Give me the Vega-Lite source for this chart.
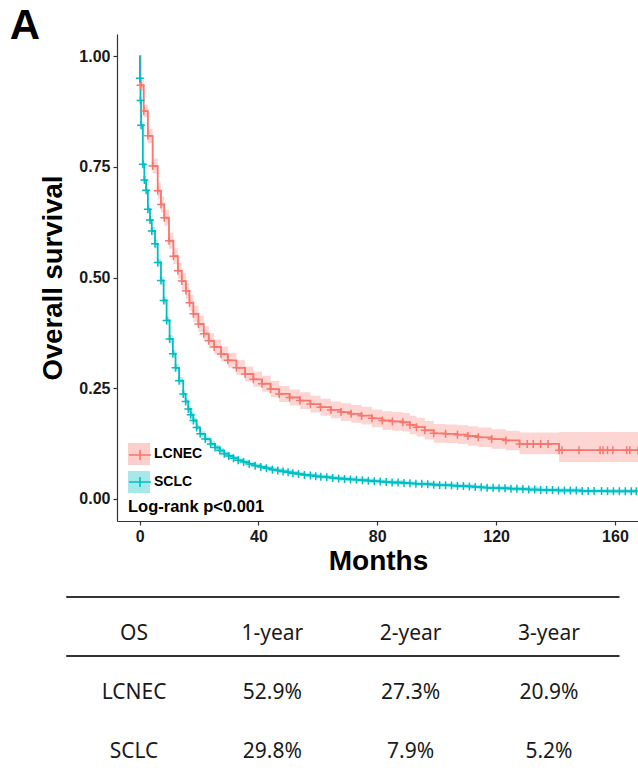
{
  "$schema": "https://vega.github.io/schema/vega-lite/v6.json",
  "autosize": {"type": "pad"},
  "padding": {"left": 9, "top": 5, "right": 0, "bottom": 0},
  "title": {"text": "A", "anchor": "start", "font": "Liberation Sans", "fontSize": 42, "fontWeight": "bold", "color": "black", "offset": -14, "dx": -30},
  "spacing": 21,
  "datasets": {
    "km": [
      {"group":"LCNEC","month":0,"surv":1,"lower":1,"upper":1},
      {"group":"LCNEC","month":0.3,"surv":0.934,"lower":0.922,"upper":0.946},
      {"group":"LCNEC","month":1.4,"surv":0.876,"lower":0.862,"upper":0.890},
      {"group":"LCNEC","month":2.8,"surv":0.820,"lower":0.804,"upper":0.836},
      {"group":"LCNEC","month":4.4,"surv":0.752,"lower":0.735,"upper":0.769},
      {"group":"LCNEC","month":6.1,"surv":0.696,"lower":0.678,"upper":0.714},
      {"group":"LCNEC","month":7.2,"surv":0.665,"lower":0.647,"upper":0.683},
      {"group":"LCNEC","month":8.3,"surv":0.635,"lower":0.617,"upper":0.653},
      {"group":"LCNEC","month":9.9,"surv":0.583,"lower":0.565,"upper":0.601},
      {"group":"LCNEC","month":11.4,"surv":0.548,"lower":0.530,"upper":0.566},
      {"group":"LCNEC","month":12.9,"surv":0.515,"lower":0.497,"upper":0.533},
      {"group":"LCNEC","month":14.2,"surv":0.492,"lower":0.474,"upper":0.510},
      {"group":"LCNEC","month":15.6,"surv":0.470,"lower":0.452,"upper":0.488},
      {"group":"LCNEC","month":16.8,"surv":0.443,"lower":0.425,"upper":0.461},
      {"group":"LCNEC","month":18.1,"surv":0.418,"lower":0.400,"upper":0.436},
      {"group":"LCNEC","month":19.8,"surv":0.395,"lower":0.377,"upper":0.413},
      {"group":"LCNEC","month":21.6,"surv":0.373,"lower":0.356,"upper":0.390},
      {"group":"LCNEC","month":23.3,"surv":0.357,"lower":0.340,"upper":0.374},
      {"group":"LCNEC","month":25.1,"surv":0.343,"lower":0.326,"upper":0.360},
      {"group":"LCNEC","month":27.4,"surv":0.327,"lower":0.310,"upper":0.344},
      {"group":"LCNEC","month":29.7,"surv":0.313,"lower":0.296,"upper":0.330},
      {"group":"LCNEC","month":32.6,"surv":0.296,"lower":0.279,"upper":0.313},
      {"group":"LCNEC","month":35.5,"surv":0.282,"lower":0.265,"upper":0.299},
      {"group":"LCNEC","month":38.3,"surv":0.270,"lower":0.253,"upper":0.287},
      {"group":"LCNEC","month":41.2,"surv":0.260,"lower":0.242,"upper":0.278},
      {"group":"LCNEC","month":44.1,"surv":0.248,"lower":0.230,"upper":0.266},
      {"group":"LCNEC","month":47.0,"surv":0.237,"lower":0.219,"upper":0.255},
      {"group":"LCNEC","month":50.5,"surv":0.229,"lower":0.211,"upper":0.247},
      {"group":"LCNEC","month":54.0,"surv":0.222,"lower":0.203,"upper":0.241},
      {"group":"LCNEC","month":57.5,"surv":0.214,"lower":0.195,"upper":0.233},
      {"group":"LCNEC","month":60.9,"surv":0.207,"lower":0.188,"upper":0.226},
      {"group":"LCNEC","month":64.4,"surv":0.201,"lower":0.182,"upper":0.220},
      {"group":"LCNEC","month":67.8,"surv":0.196,"lower":0.176,"upper":0.216},
      {"group":"LCNEC","month":71.2,"surv":0.192,"lower":0.172,"upper":0.212},
      {"group":"LCNEC","month":74.7,"surv":0.188,"lower":0.168,"upper":0.208},
      {"group":"LCNEC","month":78.2,"surv":0.182,"lower":0.162,"upper":0.202},
      {"group":"LCNEC","month":81.7,"surv":0.177,"lower":0.156,"upper":0.198},
      {"group":"LCNEC","month":85.1,"surv":0.175,"lower":0.154,"upper":0.196},
      {"group":"LCNEC","month":88.6,"surv":0.173,"lower":0.152,"upper":0.194},
      {"group":"LCNEC","month":91.0,"surv":0.167,"lower":0.146,"upper":0.188},
      {"group":"LCNEC","month":93.2,"surv":0.162,"lower":0.141,"upper":0.183},
      {"group":"LCNEC","month":96.0,"surv":0.155,"lower":0.134,"upper":0.176},
      {"group":"LCNEC","month":99.0,"surv":0.148,"lower":0.127,"upper":0.169},
      {"group":"LCNEC","month":103.0,"surv":0.147,"lower":0.126,"upper":0.168},
      {"group":"LCNEC","month":107.0,"surv":0.145,"lower":0.124,"upper":0.166},
      {"group":"LCNEC","month":110.5,"surv":0.142,"lower":0.120,"upper":0.164},
      {"group":"LCNEC","month":114.0,"surv":0.139,"lower":0.117,"upper":0.161},
      {"group":"LCNEC","month":118.5,"surv":0.135,"lower":0.113,"upper":0.157},
      {"group":"LCNEC","month":123.3,"surv":0.132,"lower":0.110,"upper":0.154},
      {"group":"LCNEC","month":127.9,"surv":0.124,"lower":0.101,"upper":0.150},
      {"group":"LCNEC","month":130.5,"surv":0.124,"lower":0.101,"upper":0.150},
      {"group":"LCNEC","month":132.5,"surv":0.124,"lower":0.101,"upper":0.150},
      {"group":"LCNEC","month":135.0,"surv":0.124,"lower":0.101,"upper":0.150},
      {"group":"LCNEC","month":137.5,"surv":0.124,"lower":0.101,"upper":0.150},
      {"group":"LCNEC","month":141.2,"surv":0.110,"lower":0.083,"upper":0.151},
      {"group":"LCNEC","month":142.2,"surv":0.110,"lower":0.083,"upper":0.151},
      {"group":"LCNEC","month":147.9,"surv":0.110,"lower":0.083,"upper":0.151},
      {"group":"LCNEC","month":155.0,"surv":0.110,"lower":0.083,"upper":0.151},
      {"group":"LCNEC","month":156.0,"surv":0.110,"lower":0.083,"upper":0.151},
      {"group":"LCNEC","month":157.5,"surv":0.110,"lower":0.083,"upper":0.151},
      {"group":"LCNEC","month":159.3,"surv":0.110,"lower":0.083,"upper":0.151},
      {"group":"LCNEC","month":164.0,"surv":0.110,"lower":0.083,"upper":0.151},
      {"group":"LCNEC","month":165.0,"surv":0.110,"lower":0.083,"upper":0.151},
      {"group":"LCNEC","month":167.8,"surv":0.110,"lower":0.083,"upper":0.151},
      {"group":"SCLC","month":0,"surv":1,"lower":1,"upper":1},
      {"group":"SCLC","month":0.1,"surv":0.950,"lower":0.944,"upper":0.956},
      {"group":"SCLC","month":0.3,"surv":0.900,"lower":0.893,"upper":0.907},
      {"group":"SCLC","month":0.5,"surv":0.844,"lower":0.836,"upper":0.852},
      {"group":"SCLC","month":1.1,"surv":0.756,"lower":0.747,"upper":0.765},
      {"group":"SCLC","month":1.6,"surv":0.720,"lower":0.711,"upper":0.729},
      {"group":"SCLC","month":2.2,"surv":0.697,"lower":0.688,"upper":0.706},
      {"group":"SCLC","month":2.8,"surv":0.654,"lower":0.645,"upper":0.663},
      {"group":"SCLC","month":3.5,"surv":0.630,"lower":0.621,"upper":0.639},
      {"group":"SCLC","month":4.1,"surv":0.605,"lower":0.596,"upper":0.614},
      {"group":"SCLC","month":5.2,"surv":0.576,"lower":0.567,"upper":0.585},
      {"group":"SCLC","month":6.1,"surv":0.534,"lower":0.525,"upper":0.543},
      {"group":"SCLC","month":7.2,"surv":0.493,"lower":0.484,"upper":0.502},
      {"group":"SCLC","month":8.1,"surv":0.448,"lower":0.439,"upper":0.457},
      {"group":"SCLC","month":9.1,"surv":0.403,"lower":0.394,"upper":0.412},
      {"group":"SCLC","month":10.1,"surv":0.361,"lower":0.352,"upper":0.370},
      {"group":"SCLC","month":11.2,"surv":0.328,"lower":0.320,"upper":0.336},
      {"group":"SCLC","month":12.1,"surv":0.296,"lower":0.288,"upper":0.304},
      {"group":"SCLC","month":13.3,"surv":0.267,"lower":0.259,"upper":0.275},
      {"group":"SCLC","month":14.7,"surv":0.237,"lower":0.229,"upper":0.245},
      {"group":"SCLC","month":15.5,"surv":0.220,"lower":0.213,"upper":0.227},
      {"group":"SCLC","month":16.4,"surv":0.203,"lower":0.196,"upper":0.210},
      {"group":"SCLC","month":17.2,"surv":0.190,"lower":0.183,"upper":0.197},
      {"group":"SCLC","month":18.1,"surv":0.177,"lower":0.170,"upper":0.184},
      {"group":"SCLC","month":19.2,"surv":0.161,"lower":0.155,"upper":0.167},
      {"group":"SCLC","month":20.4,"surv":0.147,"lower":0.141,"upper":0.153},
      {"group":"SCLC","month":22.1,"surv":0.135,"lower":0.129,"upper":0.141},
      {"group":"SCLC","month":23.9,"surv":0.124,"lower":0.118,"upper":0.130},
      {"group":"SCLC","month":25.4,"surv":0.116,"lower":0.110,"upper":0.122},
      {"group":"SCLC","month":27.0,"surv":0.109,"lower":0.103,"upper":0.115},
      {"group":"SCLC","month":28.5,"surv":0.102,"lower":0.097,"upper":0.107},
      {"group":"SCLC","month":30.0,"surv":0.097,"lower":0.092,"upper":0.102},
      {"group":"SCLC","month":31.6,"surv":0.092,"lower":0.087,"upper":0.097},
      {"group":"SCLC","month":33.2,"surv":0.087,"lower":0.082,"upper":0.092},
      {"group":"SCLC","month":35.0,"surv":0.083,"lower":0.078,"upper":0.088},
      {"group":"SCLC","month":36.9,"surv":0.079,"lower":0.074,"upper":0.084},
      {"group":"SCLC","month":38.9,"surv":0.075,"lower":0.070,"upper":0.080},
      {"group":"SCLC","month":40.8,"surv":0.072,"lower":0.067,"upper":0.077},
      {"group":"SCLC","month":42.7,"surv":0.069,"lower":0.064,"upper":0.074},
      {"group":"SCLC","month":44.7,"surv":0.066,"lower":0.061,"upper":0.071},
      {"group":"SCLC","month":46.5,"surv":0.064,"lower":0.059,"upper":0.069},
      {"group":"SCLC","month":48.3,"surv":0.062,"lower":0.057,"upper":0.067},
      {"group":"SCLC","month":50.0,"surv":0.060,"lower":0.055,"upper":0.065},
      {"group":"SCLC","month":51.6,"surv":0.058,"lower":0.053,"upper":0.063},
      {"group":"SCLC","month":53.5,"surv":0.056,"lower":0.051,"upper":0.061},
      {"group":"SCLC","month":55.5,"surv":0.054,"lower":0.049,"upper":0.059},
      {"group":"SCLC","month":57.5,"surv":0.053,"lower":0.048,"upper":0.058},
      {"group":"SCLC","month":59.3,"surv":0.051,"lower":0.046,"upper":0.056},
      {"group":"SCLC","month":61.0,"surv":0.050,"lower":0.045,"upper":0.055},
      {"group":"SCLC","month":63.0,"surv":0.049,"lower":0.044,"upper":0.054},
      {"group":"SCLC","month":65.0,"surv":0.047,"lower":0.042,"upper":0.052},
      {"group":"SCLC","month":67.0,"surv":0.046,"lower":0.041,"upper":0.051},
      {"group":"SCLC","month":69.0,"surv":0.045,"lower":0.040,"upper":0.050},
      {"group":"SCLC","month":71.0,"surv":0.044,"lower":0.039,"upper":0.049},
      {"group":"SCLC","month":73.0,"surv":0.043,"lower":0.038,"upper":0.048},
      {"group":"SCLC","month":75.0,"surv":0.042,"lower":0.037,"upper":0.047},
      {"group":"SCLC","month":77.0,"surv":0.041,"lower":0.036,"upper":0.046},
      {"group":"SCLC","month":79.0,"surv":0.040,"lower":0.035,"upper":0.045},
      {"group":"SCLC","month":81.0,"surv":0.039,"lower":0.034,"upper":0.044},
      {"group":"SCLC","month":83.0,"surv":0.038,"lower":0.033,"upper":0.043},
      {"group":"SCLC","month":85.0,"surv":0.037,"lower":0.032,"upper":0.042},
      {"group":"SCLC","month":87.0,"surv":0.037,"lower":0.032,"upper":0.042},
      {"group":"SCLC","month":89.0,"surv":0.036,"lower":0.031,"upper":0.041},
      {"group":"SCLC","month":91.0,"surv":0.035,"lower":0.030,"upper":0.040},
      {"group":"SCLC","month":93.0,"surv":0.034,"lower":0.029,"upper":0.039},
      {"group":"SCLC","month":95.0,"surv":0.034,"lower":0.029,"upper":0.039},
      {"group":"SCLC","month":97.0,"surv":0.033,"lower":0.028,"upper":0.038},
      {"group":"SCLC","month":99.0,"surv":0.032,"lower":0.027,"upper":0.037},
      {"group":"SCLC","month":101.0,"surv":0.031,"lower":0.026,"upper":0.036},
      {"group":"SCLC","month":103.0,"surv":0.031,"lower":0.026,"upper":0.036},
      {"group":"SCLC","month":105.0,"surv":0.030,"lower":0.025,"upper":0.035},
      {"group":"SCLC","month":107.0,"surv":0.029,"lower":0.024,"upper":0.034},
      {"group":"SCLC","month":109.0,"surv":0.029,"lower":0.024,"upper":0.034},
      {"group":"SCLC","month":111.0,"surv":0.028,"lower":0.023,"upper":0.033},
      {"group":"SCLC","month":113.0,"surv":0.027,"lower":0.022,"upper":0.032},
      {"group":"SCLC","month":115.0,"surv":0.026,"lower":0.021,"upper":0.031},
      {"group":"SCLC","month":117.0,"surv":0.025,"lower":0.020,"upper":0.030},
      {"group":"SCLC","month":119.0,"surv":0.025,"lower":0.020,"upper":0.030},
      {"group":"SCLC","month":121.0,"surv":0.024,"lower":0.019,"upper":0.029},
      {"group":"SCLC","month":123.0,"surv":0.024,"lower":0.019,"upper":0.029},
      {"group":"SCLC","month":125.0,"surv":0.023,"lower":0.018,"upper":0.028},
      {"group":"SCLC","month":127.0,"surv":0.023,"lower":0.018,"upper":0.028},
      {"group":"SCLC","month":129.0,"surv":0.022,"lower":0.017,"upper":0.027},
      {"group":"SCLC","month":131.0,"surv":0.021,"lower":0.016,"upper":0.026},
      {"group":"SCLC","month":133.0,"surv":0.021,"lower":0.016,"upper":0.026},
      {"group":"SCLC","month":135.0,"surv":0.020,"lower":0.015,"upper":0.025},
      {"group":"SCLC","month":137.0,"surv":0.020,"lower":0.015,"upper":0.025},
      {"group":"SCLC","month":139.0,"surv":0.020,"lower":0.015,"upper":0.025},
      {"group":"SCLC","month":141.0,"surv":0.019,"lower":0.014,"upper":0.024},
      {"group":"SCLC","month":143.0,"surv":0.019,"lower":0.014,"upper":0.024},
      {"group":"SCLC","month":145.0,"surv":0.019,"lower":0.014,"upper":0.024},
      {"group":"SCLC","month":147.0,"surv":0.019,"lower":0.014,"upper":0.024},
      {"group":"SCLC","month":149.0,"surv":0.018,"lower":0.013,"upper":0.023},
      {"group":"SCLC","month":151.0,"surv":0.018,"lower":0.013,"upper":0.023},
      {"group":"SCLC","month":153.0,"surv":0.018,"lower":0.013,"upper":0.023},
      {"group":"SCLC","month":155.5,"surv":0.018,"lower":0.013,"upper":0.023},
      {"group":"SCLC","month":157.5,"surv":0.017,"lower":0.012,"upper":0.022},
      {"group":"SCLC","month":159.5,"surv":0.017,"lower":0.012,"upper":0.022},
      {"group":"SCLC","month":161.5,"surv":0.017,"lower":0.012,"upper":0.022},
      {"group":"SCLC","month":163.5,"surv":0.017,"lower":0.012,"upper":0.022},
      {"group":"SCLC","month":165.5,"surv":0.017,"lower":0.012,"upper":0.022},
      {"group":"SCLC","month":167.2,"surv":0.017,"lower":0.012,"upper":0.022}
    ],
    "table": [
      {"row":0,"col":0,"cell":"OS"},
      {"row":0,"col":1,"cell":"1-year"},
      {"row":0,"col":2,"cell":"2-year"},
      {"row":0,"col":3,"cell":"3-year"},
      {"row":1,"col":0,"cell":"LCNEC"},
      {"row":1,"col":1,"cell":"52.9%"},
      {"row":1,"col":2,"cell":"27.3%"},
      {"row":1,"col":3,"cell":"20.9%"},
      {"row":2,"col":0,"cell":"SCLC"},
      {"row":2,"col":1,"cell":"29.8%"},
      {"row":2,"col":2,"cell":"7.9%"},
      {"row":2,"col":3,"cell":"5.2%"}
    ]
  },
  "vconcat": [
    {
      "width": 522,
      "height": 487,
      "data": {"name": "km"},
      "encoding": {
        "x": {
          "field": "month", "type": "quantitative",
          "scale": {"domain": [-7.6, 168.1], "nice": false, "zero": false},
          "axis": {
            "values": [0, 40, 80, 120, 160], "title": "Months", "grid": false,
            "titleFontSize": 28, "titleFontWeight": "bold", "titleColor": "black", "titleFont": "Liberation Sans", "titlePadding": 3,
            "labelFontSize": 16, "labelFontWeight": "bold", "labelColor": "#1a1a1a", "labelFont": "Liberation Sans", "labelPadding": 3,
            "tickSize": 4, "tickColor": "#333", "domainColor": "#333", "domainWidth": 1.2, "tickWidth": 1.2
          }
        }
      },
      "layer": [
        {
          "mark": {"type": "area", "interpolate": "step-after", "fillOpacity": 0.3},
          "encoding": {
            "y": {
              "field": "lower", "type": "quantitative", "title": "Overall survival",
              "scale": {"domain": [-0.05, 1.05], "nice": false, "zero": false},
              "axis": {
                "values": [0, 0.25, 0.5, 0.75, 1], "format": ".2f", "grid": false, "title": "Overall survival",
                "titleFontSize": 27.5, "titleFontWeight": "bold", "titleColor": "black", "titleFont": "Liberation Sans", "titlePadding": 11,
                "labelFontSize": 16, "labelFontWeight": "bold", "labelColor": "#1a1a1a", "labelFont": "Liberation Sans", "labelPadding": 3,
                "tickSize": 4, "tickColor": "#333", "domainColor": "#333", "domainWidth": 1.2, "tickWidth": 1.2
              }
            },
            "y2": {"field": "upper"},
            "fill": {
              "field": "group", "type": "nominal",
              "scale": {"domain": ["LCNEC", "SCLC"], "range": ["#F8766D", "#00BFC4"]},
              "legend": {
                "orient": "none", "legendX": 11, "legendY": 409, "padding": 0,
                "title": "Log-rank p<0.001", "titleOrient": "bottom", "titleAnchor": "start",
                "titleFontSize": 16.5, "titleFontWeight": "bold", "titleColor": "black", "titleFont": "Liberation Sans", "titlePadding": 6,
                "symbolType": "square", "symbolSize": 484, "symbolOpacity": 0.35, "symbolStrokeWidth": 0,
                "labelFontSize": 14, "labelFontWeight": "bold", "labelColor": "black", "labelFont": "Liberation Sans", "labelOffset": 4,
                "rowPadding": 6
              }
            }
          }
        },
        {
          "mark": {"type": "line", "interpolate": "step-after", "strokeWidth": 1.8},
          "encoding": {
            "y": {"field": "surv", "type": "quantitative", "title": "Overall survival"},
            "stroke": {
              "field": "group", "type": "nominal",
              "scale": {"range": ["#F8766D", "#00BFC4"]},
              "legend": {
                "orient": "none", "legendX": 11, "legendY": 409, "padding": 0, "title": null,
                "symbolType": "M-1,0H1M0,-0.45V0.45", "symbolSize": 484, "symbolStrokeWidth": 1.6, "symbolFillColor": "transparent", "symbolOpacity": 1,
                "labelExpr": "''", "labelFontSize": 14, "labelOffset": 4,
                "rowPadding": 6
              }
            }
          }
        },
        {
          "transform": [{"filter": "datum.month > 0"}],
          "mark": {"type": "point", "shape": "M-1,0H1M0,-1V1", "filled": false, "size": 64, "strokeWidth": 1.5, "opacity": 1},
          "encoding": {
            "y": {"field": "surv", "type": "quantitative", "title": "Overall survival"},
            "stroke": {
              "field": "group", "type": "nominal",
              "scale": {"range": ["#F8766D", "#00BFC4"]},
              "legend": {
                "orient": "none", "legendX": 11, "legendY": 409, "padding": 0, "title": null,
                "symbolType": "M-1,0H1M0,-0.45V0.45", "symbolSize": 484, "symbolStrokeWidth": 1.6, "symbolFillColor": "transparent", "symbolOpacity": 1,
                "labelExpr": "''", "labelFontSize": 14, "labelOffset": 4,
                "rowPadding": 6
              }
            }
          }
        }
      ]
    },
    {
      "width": 522,
      "height": 164,
      "layer": [
        {
          "data": {"name": "table"},
          "mark": {"type": "text", "font": "Noto Sans", "fontSize": 21, "color": "#1a1a1a", "align": "center", "baseline": "middle", "dy": 3},
          "encoding": {
            "x": {"field": "col", "type": "quantitative", "scale": {"domain": [-0.123, 3.651], "nice": false, "zero": false}, "axis": null},
            "y": {"field": "row", "type": "quantitative", "scale": {"domain": [-0.58, 2.2], "nice": false, "zero": false, "reverse": true}, "axis": null},
            "text": {"field": "cell"}
          }
        },
        {
          "data": {"values": [{"line": "top"}]},
          "mark": {"type": "rule", "color": "#333", "strokeWidth": 1.8},
          "encoding": {
            "x": {"datum": -0.49, "type": "quantitative"},
            "x2": {"datum": 3.51},
            "y": {"datum": -0.58, "type": "quantitative"}
          }
        },
        {
          "data": {"values": [{"line": "header"}]},
          "mark": {"type": "rule", "color": "#333", "strokeWidth": 1.8},
          "encoding": {
            "x": {"datum": -0.49, "type": "quantitative"},
            "x2": {"datum": 3.51},
            "y": {"datum": 0.42, "type": "quantitative"}
          }
        }
      ]
    }
  ],
  "config": {
    "view": {"stroke": null},
    "font": "Liberation Sans"
  }
}
